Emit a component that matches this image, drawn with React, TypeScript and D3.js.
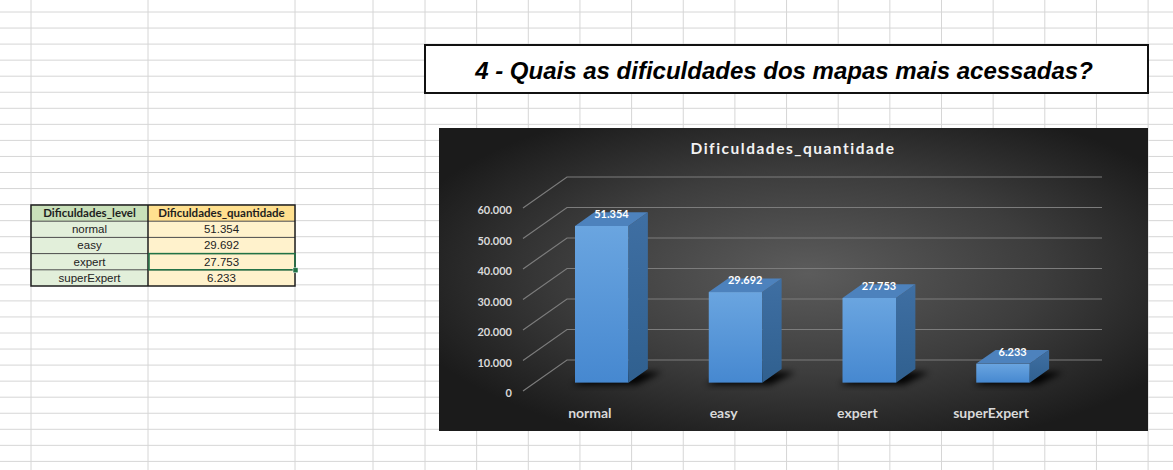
import React from 'react';
import * as d3 from 'd3';

// data read from the sheet
const levels = ['normal', 'easy', 'expert', 'superExpert'];
const quantities = [51354, 29692, 27753, 6233];
const yTicks = [0, 10000, 20000, 30000, 40000, 50000, 60000];
const tableHeaders = ['Dificuldades_level', 'Dificuldades_quantidade'];
const pageTitle = '4 - Quais as dificuldades dos mapas mais acessadas?';
const chartTitle = 'Dificuldades_quantidade';

const W = 1173;
const H = 470;

// spreadsheet grid
const colLines = [31, 148, 295, 373].concat(d3.range(0, 16).map(i => 425 + i * 51.65));
const rowLines = d3.range(0, 29).map(i => 12 + i * 16.05);

const ptBR = d3.formatLocale({decimal: ',', thousands: '.', grouping: [3], currency: ['R$', '']});
const fmt = ptBR.format(',d');

// chart box
const chart = {x: 439, y: 128, w: 709, h: 303};
// front floor of the 3d plot + depth vector
const floor = {x0: 523, x1: 1058};
const depth = {dx: 44, dy: -31};
const barFront = 0.27; // depth fraction where bars begin
const barBack = 0.71;

const App = () => {
  const x = d3.scaleBand().domain(levels).range([floor.x0, floor.x1]).paddingInner(0.6).paddingOuter(0.3);
  const y = d3.scaleLinear().domain([0, 60000]).range([391, 208]);

  const fdx = depth.dx * barFront, fdy = depth.dy * barFront;
  const bdx = depth.dx * (barBack - barFront), bdy = depth.dy * (barBack - barFront);

  const tableX = [31, 148, 295];
  const tableRowY = d3.range(0, 6).map(i => 205 + i * 16.2);

  return (
    <svg width={W} height={H} style={{position: 'absolute', left: 0, top: 0}}>
      <defs>
        <radialGradient id="bg" cx="52%" cy="48%" r="60%">
          <stop offset="0%" stopColor="#5c5c5c"/>
          <stop offset="55%" stopColor="#3d3d3d"/>
          <stop offset="100%" stopColor="#1b1b1b"/>
        </radialGradient>
        <linearGradient id="front" x1="0" y1="0" x2="0" y2="1">
          <stop offset="0%" stopColor="#6aa5e0"/>
          <stop offset="100%" stopColor="#4688d0"/>
        </linearGradient>
        <linearGradient id="side" x1="0" y1="0" x2="0" y2="1">
          <stop offset="0%" stopColor="#3f6fa3"/>
          <stop offset="100%" stopColor="#30608f"/>
        </linearGradient>
        <filter id="blur" x="-50%" y="-50%" width="200%" height="200%">
          <feGaussianBlur stdDeviation="3"/>
        </filter>
      </defs>
      <rect width={W} height={H} fill="#ffffff"/>
      <g stroke="#d6d6d6" strokeWidth={1}>
        {colLines.map((cx, i) => <line key={'c' + i} x1={cx} x2={cx} y1={0} y2={H}/>)}
        {rowLines.map((ry, i) => <line key={'r' + i} x1={0} x2={W} y1={ry} y2={ry}/>)}
      </g>

      {/* table */}
      <g>
        <rect x={tableX[0]} y={tableRowY[0]} width={tableX[1] - tableX[0]} height={tableRowY[1] - tableRowY[0]} fill="#c9e0b9"/>
        <rect x={tableX[1]} y={tableRowY[0]} width={tableX[2] - tableX[1]} height={tableRowY[1] - tableRowY[0]} fill="#ffe08f"/>
        {levels.map((lv, i) => (
          <g key={lv}>
            <rect x={tableX[0]} y={tableRowY[i + 1]} width={tableX[1] - tableX[0]} height={tableRowY[i + 2] - tableRowY[i + 1]} fill="#e2efda"/>
            <rect x={tableX[1]} y={tableRowY[i + 1]} width={tableX[2] - tableX[1]} height={tableRowY[i + 2] - tableRowY[i + 1]} fill="#fff2cc"/>
            <line x1={tableX[0]} x2={tableX[2]} y1={tableRowY[i + 1]} y2={tableRowY[i + 1]} stroke="#4a4a4a" strokeWidth={1}/>
            <text x={(tableX[0] + tableX[1]) / 2} y={tableRowY[i + 1] + 12} textAnchor="middle" fontFamily="Liberation Sans, Arial" fontSize={11.5} fill="#222">{lv}</text>
            <text x={(tableX[1] + tableX[2]) / 2} y={tableRowY[i + 1] + 12} textAnchor="middle" fontFamily="Liberation Sans, Arial" fontSize={11.5} fill="#222">{fmt(quantities[i])}</text>
          </g>
        ))}
        {tableHeaders.map((hd, i) => (
          <text key={hd} x={(tableX[i] + tableX[i + 1]) / 2} y={tableRowY[0] + 12} textAnchor="middle" fontFamily="Lato, Open Sans" fontWeight="bold" fontSize={11.5} fill="#1e1e1e">{hd}</text>
        ))}
        <line x1={tableX[1]} x2={tableX[1]} y1={tableRowY[0]} y2={tableRowY[5]} stroke="#1e1e1e" strokeWidth={1.5}/>
        <rect x={tableX[0]} y={tableRowY[0]} width={tableX[2] - tableX[0]} height={tableRowY[5] - tableRowY[0]} fill="none" stroke="#1e1e1e" strokeWidth={1.5}/>
        <rect x={tableX[1] + 1} y={tableRowY[3]} width={tableX[2] - tableX[1] - 1} height={tableRowY[4] - tableRowY[3]} fill="none" stroke="#217346" strokeWidth={1.5}/>
        <rect x={tableX[2] - 2} y={tableRowY[4] - 2} width={5} height={5} fill="#217346" stroke="#fff" strokeWidth={0.5}/>
      </g>

      {/* title box */}
      <rect x={425} y={45} width={723} height={48} fill="#fff" stroke="#111" strokeWidth={2}/>
      <text x={784} y={79} textAnchor="middle" fontFamily="Liberation Sans, Arial" fontWeight="bold" fontStyle="italic" fontSize={24} fill="#000">{pageTitle}</text>

      {/* chart */}
      <rect x={chart.x} y={chart.y} width={chart.w} height={chart.h} fill="url(#bg)"/>
      <text x={793} y={154} textAnchor="middle" fontFamily="Lato, Open Sans" fontWeight="bold" fontSize={15.5} letterSpacing={1.5} fill="#f2f2f2">{chartTitle}</text>

      <g stroke="#7c7c7c" strokeWidth={1.2} fill="none">
        {yTicks.map(t => (
          <path key={t} d={`M${floor.x0},${y(t)} L${floor.x0 + depth.dx},${y(t) + depth.dy} L${floor.x1 + depth.dx},${y(t) + depth.dy}`}/>
        ))}
      </g>
      <g fontFamily="Lato, Open Sans" fontWeight="bold" fontSize={11} fill="#d9d9d9" textAnchor="end">
        {yTicks.map(t => (
          <text key={t} x={512} y={y(t) + 6}>{fmt(t)}</text>
        ))}
      </g>

      {/* shadows */}
      <g filter="url(#blur)" fill="#000" opacity={0.95}>
        {levels.map(lv => {
          const x0 = (x(lv) as number) + fdx;
          const x1 = x0 + x.bandwidth();
          const yb = y(0) + fdy;
          return <polygon key={lv} points={`${x0 - 3},${yb + 2} ${x1 + 8},${yb + 2} ${x1 + bdx + 14},${yb + bdy + 3} ${x0 + bdx},${yb + bdy + 3}`}/>;
        })}
      </g>

      {/* bars */}
      {levels.map((lv, i) => {
        const x0 = (x(lv) as number) + fdx;
        const x1 = x0 + x.bandwidth();
        const yb = y(0) + fdy;
        const yt = y(quantities[i]) + fdy;
        return (
          <g key={lv}>
            <rect x={x0} y={yt} width={x1 - x0} height={yb - yt} fill="url(#front)"/>
            <polygon points={`${x1},${yt} ${x1 + bdx},${yt + bdy} ${x1 + bdx},${yb + bdy} ${x1},${yb}`} fill="url(#side)"/>
            <polygon points={`${x0},${yt} ${x1},${yt} ${x1 + bdx},${yt + bdy} ${x0 + bdx},${yt + bdy}`} fill="#4d82bd"/>
            <text x={(x0 + x1) / 2 + bdx / 2} y={yt + bdy / 2 - 1} textAnchor="middle" fontFamily="Lato, Open Sans" fontWeight="bold" fontSize={11} fill="#ffffff">{fmt(quantities[i])}</text>
          </g>
        );
      })}

      <g fontFamily="Lato, Open Sans" fontWeight="bold" fontSize={14} fill="#d9d9d9" textAnchor="middle">
        {levels.map(lv => (
          <text key={lv} x={(x(lv) as number) + x.bandwidth() / 2} y={418}>{lv}</text>
        ))}
      </g>
    </svg>
  );
};

export default App;
